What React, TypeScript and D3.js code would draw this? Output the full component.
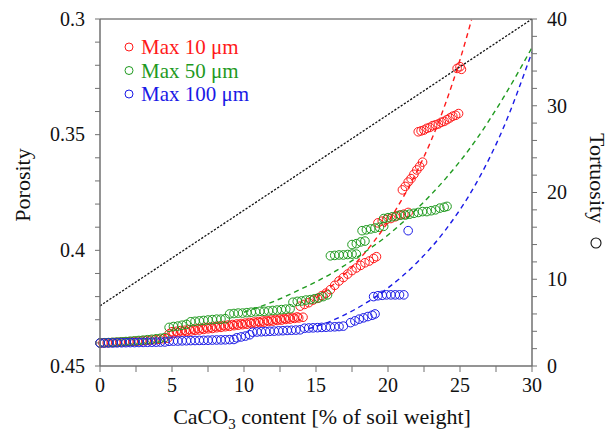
import React from "react";
import * as d3 from "d3";

// ---------- data ----------
// CaCO3 content [% of soil weight] and tortuosity for each series
const redX = [
  0.0, 0.2, 0.5, 0.8, 1.1, 1.4, 1.7, 2.0, 2.3, 2.6, 2.9, 3.2, 3.5, 3.8, 4.1, 4.4, 4.7,
  4.8, 5.1, 5.4, 5.7, 6.0, 6.3, 6.6, 6.9, 7.2, 7.5, 7.8, 8.1, 8.4, 8.7, 9.0, 9.3, 9.6, 9.9,
  10.2, 10.5, 10.8, 11.1, 11.4, 11.7, 12.0, 12.3, 12.6, 12.9, 13.2, 13.5, 13.8, 14.1,
  5.0, 5.3, 5.6, 5.9, 6.2, 6.5, 6.8, 7.1, 7.4, 7.7, 8.0, 8.3, 8.6, 8.9, 9.2, 9.5, 9.8,
  10.1, 10.4, 10.7, 11.0, 11.3, 11.6, 11.9, 12.2, 12.5, 12.8, 13.1, 13.4, 13.7,
  13.9, 14.2, 14.5, 14.8, 15.1, 15.4, 15.7, 16.0, 16.3, 16.6, 16.9, 17.2, 17.5, 17.8, 18.1, 18.4, 18.7, 19.0, 19.2,
  19.3, 19.6, 19.9, 20.2, 20.5, 20.8, 21.1, 21.4,
  21.0, 21.2, 21.4, 21.6, 21.8, 22.0, 22.2, 22.4,
  22.1, 22.3, 22.5, 22.7, 22.9, 23.1, 23.3, 23.5, 23.7, 23.9, 24.1, 24.3, 24.5, 24.7, 24.9,
  24.8, 25.0, 25.1,
];
const redT = [
  2.65, 2.66, 2.68, 2.7, 2.72, 2.75, 2.78, 2.8, 2.83, 2.86, 2.9, 2.94, 2.98, 3.03, 3.08, 3.14, 3.2,
  3.7, 3.78, 3.84, 3.93, 3.98, 4.03, 4.11, 4.15, 4.22, 4.29, 4.33, 4.41, 4.45, 4.53, 4.57, 4.65, 4.7, 4.77,
  4.81, 4.89, 4.93, 5.01, 5.05, 5.13, 5.17, 5.25, 5.29, 5.37, 5.41, 5.49, 5.54, 5.62,
  3.95, 4.0, 4.08, 4.12, 4.2, 4.25, 4.32, 4.36, 4.44, 4.48, 4.55, 4.6, 4.67, 4.72, 4.78, 4.84, 4.9,
  4.95, 5.02, 5.07, 5.13, 5.19, 5.25, 5.3, 5.37, 5.42, 5.48, 5.55, 5.6, 5.66,
  6.9, 7.1, 7.3, 7.6, 7.8, 8.1, 8.4, 8.8, 9.3, 9.8, 10.2, 10.6, 11.0, 11.3, 11.6, 11.9, 12.1, 12.4, 12.6,
  16.5, 16.7, 16.9, 17.0, 17.2, 17.4, 17.5, 17.7,
  20.3, 20.7, 21.2, 21.6, 22.1, 22.6, 23.0, 23.5,
  27.0, 27.1, 27.2, 27.4, 27.5, 27.7, 27.8, 27.9, 28.1, 28.2, 28.4, 28.6, 28.8, 28.9, 29.1,
  34.3, 34.5, 34.2,
];

const greenX = [
  0.0, 0.3, 0.6, 0.9, 1.2, 1.5, 1.8, 2.1, 2.4, 2.7, 3.0, 3.3, 3.6, 3.9, 4.2, 4.5,
  4.8, 5.1, 5.4, 5.7, 6.0,
  6.3, 6.6, 6.9, 7.2, 7.5, 7.8, 8.1, 8.4, 8.7,
  9.0, 9.3, 9.6, 9.9, 10.2, 10.5, 10.8, 11.1, 11.4, 11.7, 12.0, 12.3, 12.6, 12.9, 13.2,
  13.4, 13.7, 14.0, 14.3, 14.6, 14.9, 15.2, 15.5, 15.8,
  16.0, 16.3, 16.6, 16.9, 17.2, 17.5, 17.8,
  17.5, 17.8, 18.1, 18.4,
  18.2, 18.5, 18.8, 19.1, 19.4, 19.7,
  19.7, 20.0, 20.3, 20.6, 20.9, 21.2, 21.5, 21.8, 22.1, 22.4, 22.7, 23.0, 23.3, 23.6, 23.9, 24.1,
];
const greenT = [
  2.66, 2.68, 2.7, 2.73, 2.76, 2.79, 2.82, 2.86, 2.9, 2.94, 2.98, 3.03, 3.08, 3.14, 3.2, 3.28,
  4.45, 4.55, 4.6, 4.7, 4.8,
  5.1, 5.15, 5.2, 5.25, 5.3, 5.35, 5.4, 5.4, 5.45,
  6.0, 6.05, 6.1, 6.1, 6.15, 6.2, 6.25, 6.3, 6.3, 6.35, 6.4, 6.45, 6.5, 6.55, 6.6,
  7.35, 7.45, 7.5, 7.6, 7.65, 7.75, 7.85, 8.0, 8.2,
  12.7, 12.75, 12.8, 12.8, 12.85, 12.9, 12.9,
  14.0, 14.1, 14.3, 14.4,
  15.6, 15.7, 15.8, 15.9, 16.0, 16.1,
  17.0, 17.1, 17.2, 17.3, 17.4, 17.4, 17.5, 17.6, 17.7, 17.8, 17.8, 17.9, 18.0, 18.2, 18.3, 18.4,
];

const blueX = [
  0.0, 0.3, 0.6, 0.9, 1.2, 1.5, 1.8, 2.1, 2.4, 2.7, 3.0, 3.3, 3.6, 3.9, 4.2, 4.5,
  4.8, 5.1, 5.4, 5.7, 6.0, 6.3, 6.6, 6.9, 7.2, 7.5, 7.8, 8.1, 8.4, 8.7, 9.0, 9.3,
  9.5, 9.8, 10.1, 10.4,
  10.6, 10.9, 11.2, 11.5, 11.8, 12.1, 12.4, 12.7, 13.0, 13.3, 13.6, 13.9,
  14.2, 14.5, 14.8, 15.1, 15.4, 15.7, 16.0, 16.3, 16.6, 16.9,
  17.4, 17.7, 18.0, 18.3, 18.6, 18.9, 19.1,
  19.0, 19.3, 19.6, 19.9, 20.2, 20.5, 20.8, 21.1,
  21.4,
];
const blueT = [
  2.65, 2.65, 2.66, 2.66, 2.67, 2.68, 2.69, 2.7, 2.7, 2.71, 2.72, 2.73, 2.74, 2.75, 2.76, 2.77,
  2.85, 2.87, 2.88, 2.9, 2.91, 2.93, 2.94, 2.95, 2.96, 2.97, 2.99, 3.0, 3.01, 3.02, 3.04, 3.06,
  3.25, 3.35, 3.45, 3.6,
  3.9, 3.92, 3.95, 3.97, 4.0, 4.02, 4.05, 4.07, 4.1, 4.12, 4.14, 4.17,
  4.35, 4.38, 4.4, 4.42, 4.45, 4.47, 4.5, 4.52, 4.55, 4.6,
  5.0, 5.2, 5.4, 5.55, 5.7, 5.85, 6.0,
  8.0, 8.1, 8.15, 8.2, 8.2, 8.2, 8.2, 8.2,
  15.6,
];

// dashed fitted curves at a few x positions
const redFitX = [15, 16, 17, 18, 19, 20, 21, 22, 23, 24, 25, 25.8];
const redFitT = [7.85, 9.1, 10.6, 12.3, 14.3, 16.6, 19.3, 22.4, 26.0, 30.3, 35.3, 39.9];
const greenFitX = [10, 12, 14, 16, 18, 20, 22, 24, 26, 28, 30];
const greenFitT = [6.2, 7.4, 8.9, 10.6, 12.7, 15.1, 18.1, 21.6, 25.8, 30.9, 36.7];
const blueFitX = [14.5, 16, 18, 20, 22, 24, 26, 28, 30];
const blueFitT = [4.3, 5.15, 6.8, 9.0, 11.9, 15.7, 20.7, 27.4, 36.2];

// porosity line (black dotted)
const poroLineX = [0, 30];
const poroLineP = [0.424, 0.3];

const seriesNames = ["Max 10 \u03bcm", "Max 50 \u03bcm", "Max 100 \u03bcm"];
const seriesColors = ["#ff1a1a", "#1f9a1f", "#1a1ae6"];

const xMajor = [0, 5, 10, 15, 20, 25, 30];
const xMinor = [2.5, 7.5, 12.5, 17.5, 22.5, 27.5];
const pMajor = [0.3, 0.35, 0.4, 0.45];
const pLabels = ["0.3", "0.35", "0.4", "0.45"];
const pMinor = [0.31, 0.32, 0.33, 0.34, 0.36, 0.37, 0.38, 0.39, 0.41, 0.42, 0.43, 0.44];
const tMajor = [0, 10, 20, 30, 40];
const tMinor = [2, 4, 6, 8, 12, 14, 16, 18, 22, 24, 26, 28, 32, 34, 36, 38];

const FONT = "'Liberation Serif', 'Times New Roman', Times, serif";

export default function App() {
  const W = 614;
  const H = 432;
  const L = 100, R = 532, T = 19, B = 366;
  const x = d3.scaleLinear().domain([0, 30]).range([L, R]);
  const yP = d3.scaleLinear().domain([0.3, 0.45]).range([T, B]);
  const yT = d3.scaleLinear().domain([0, 40]).range([B, T]);

  const pts = [
    { xs: redX, ts: redT, c: seriesColors[0] },
    { xs: greenX, ts: greenT, c: seriesColors[1] },
    { xs: blueX, ts: blueT, c: seriesColors[2] },
  ];
  const fits = [
    { xs: redFitX, ts: redFitT, c: seriesColors[0] },
    { xs: greenFitX, ts: greenFitT, c: seriesColors[1] },
    { xs: blueFitX, ts: blueFitT, c: seriesColors[2] },
  ];
  const line = d3
    .line<[number, number]>()
    .x((d) => x(d[0]))
    .y((d) => yT(d[1]))
    .curve(d3.curveMonotoneX);
  const pLine = d3
    .line<[number, number]>()
    .x((d) => x(d[0]))
    .y((d) => yP(d[1]));

  const axisColor = "#707070";
  const tickLen = 5;

  return (
    <svg
      width={W}
      height={H}
      style={{ position: "absolute", left: 0, top: 0, background: "#fff" }}
      fontFamily={FONT}
    >
      <defs>
        <clipPath id="plotclip">
          <rect x={L} y={T} width={R - L} height={B - T} />
        </clipPath>
      </defs>

      {/* data points */}
      <g fill="none" strokeWidth={1}>
        {pts.map((s, si) =>
          s.xs.map((v, i) => (
            <circle key={si + "-" + i} cx={x(v)} cy={yT(s.ts[i])} r={4.3} stroke={s.c} />
          ))
        )}
      </g>

      {/* dashed fitted curves */}
      <g clipPath="url(#plotclip)" fill="none">
        {fits.map((f, i) => (
          <path
            key={i}
            d={line(f.xs.map((v, j) => [v, f.ts[j]] as [number, number])) || ""}
            stroke={f.c}
            strokeWidth={1.4}
            strokeDasharray="5,4"
          />
        ))}
        <path
          d={pLine(poroLineX.map((v, j) => [v, poroLineP[j]] as [number, number])) || ""}
          stroke="#111"
          strokeWidth={1.3}
          strokeDasharray="2.2,1.6"
        />
      </g>

      {/* frame */}
      <line x1={L} x2={R} y1={T} y2={T} stroke="#444" strokeWidth={1} />
      <line x1={L} x2={L} y1={T} y2={B} stroke={axisColor} strokeWidth={1.5} />
      <line x1={R} x2={R} y1={T} y2={B} stroke={axisColor} strokeWidth={1.5} />
      <line x1={L} x2={R} y1={B} y2={B} stroke={axisColor} strokeWidth={1.5} />

      {/* ticks */}
      <g stroke={axisColor} strokeWidth={1}>
        {xMajor.concat(xMinor).map((v) => (
          <line key={"xt" + v} x1={x(v)} x2={x(v)} y1={B} y2={B + tickLen + 1} />
        ))}
        {pMajor.concat(pMinor).map((v) => (
          <line key={"pt" + v} x1={L - tickLen} x2={L} y1={yP(v)} y2={yP(v)} />
        ))}
        {tMajor.concat(tMinor).map((v) => (
          <line key={"tt" + v} x1={R} x2={R + tickLen} y1={yT(v)} y2={yT(v)} />
        ))}
      </g>

      {/* tick labels */}
      <g fontSize={20} fill="#111">
        {xMajor.map((v) => (
          <text key={"xl" + v} x={x(v)} y={392} textAnchor="middle">
            {String(v)}
          </text>
        ))}
        {pMajor.map((v, i) => (
          <text key={"pl" + v} x={L - 15} y={yP(v)} dy="0.34em" textAnchor="end">
            {pLabels[i]}
          </text>
        ))}
        {tMajor.map((v) => (
          <text key={"tl" + v} x={R + 15} y={yT(v)} dy="0.34em" textAnchor="start">
            {String(v)}
          </text>
        ))}
      </g>

      {/* axis titles */}
      <text
        fontSize={22}
        fill="#111"
        textAnchor="middle"
        transform={`translate(30, 185) rotate(-90)`}
      >
        Porosity
      </text>
      <g transform={`translate(590, 133) rotate(90)`}>
        <text fontSize={22} fill="#111" textAnchor="start" x={0} y={0}>
          Tortuosity
        </text>
      </g>
      <circle cx={596} cy={243} r={5} fill="none" stroke="#111" strokeWidth={1.1} />
      <text fontSize={22} fill="#111" textAnchor="middle" x={322} y={424}>
        <tspan>CaCO</tspan>
        <tspan fontSize={15} dy={5}>3</tspan>
        <tspan dy={-5}> content [% of soil weight]</tspan>
      </text>

      {/* legend */}
      <g>
        {seriesNames.map((n, i) => (
          <g key={n}>
            <circle cx={129} cy={47 + i * 23.5} r={4} fill="none" stroke={seriesColors[i]} strokeWidth={1} />
            <text x={141} y={47 + i * 23.5} dy="0.35em" fontSize={21} fill={seriesColors[i]}>
              {n}
            </text>
          </g>
        ))}
      </g>
    </svg>
  );
}
